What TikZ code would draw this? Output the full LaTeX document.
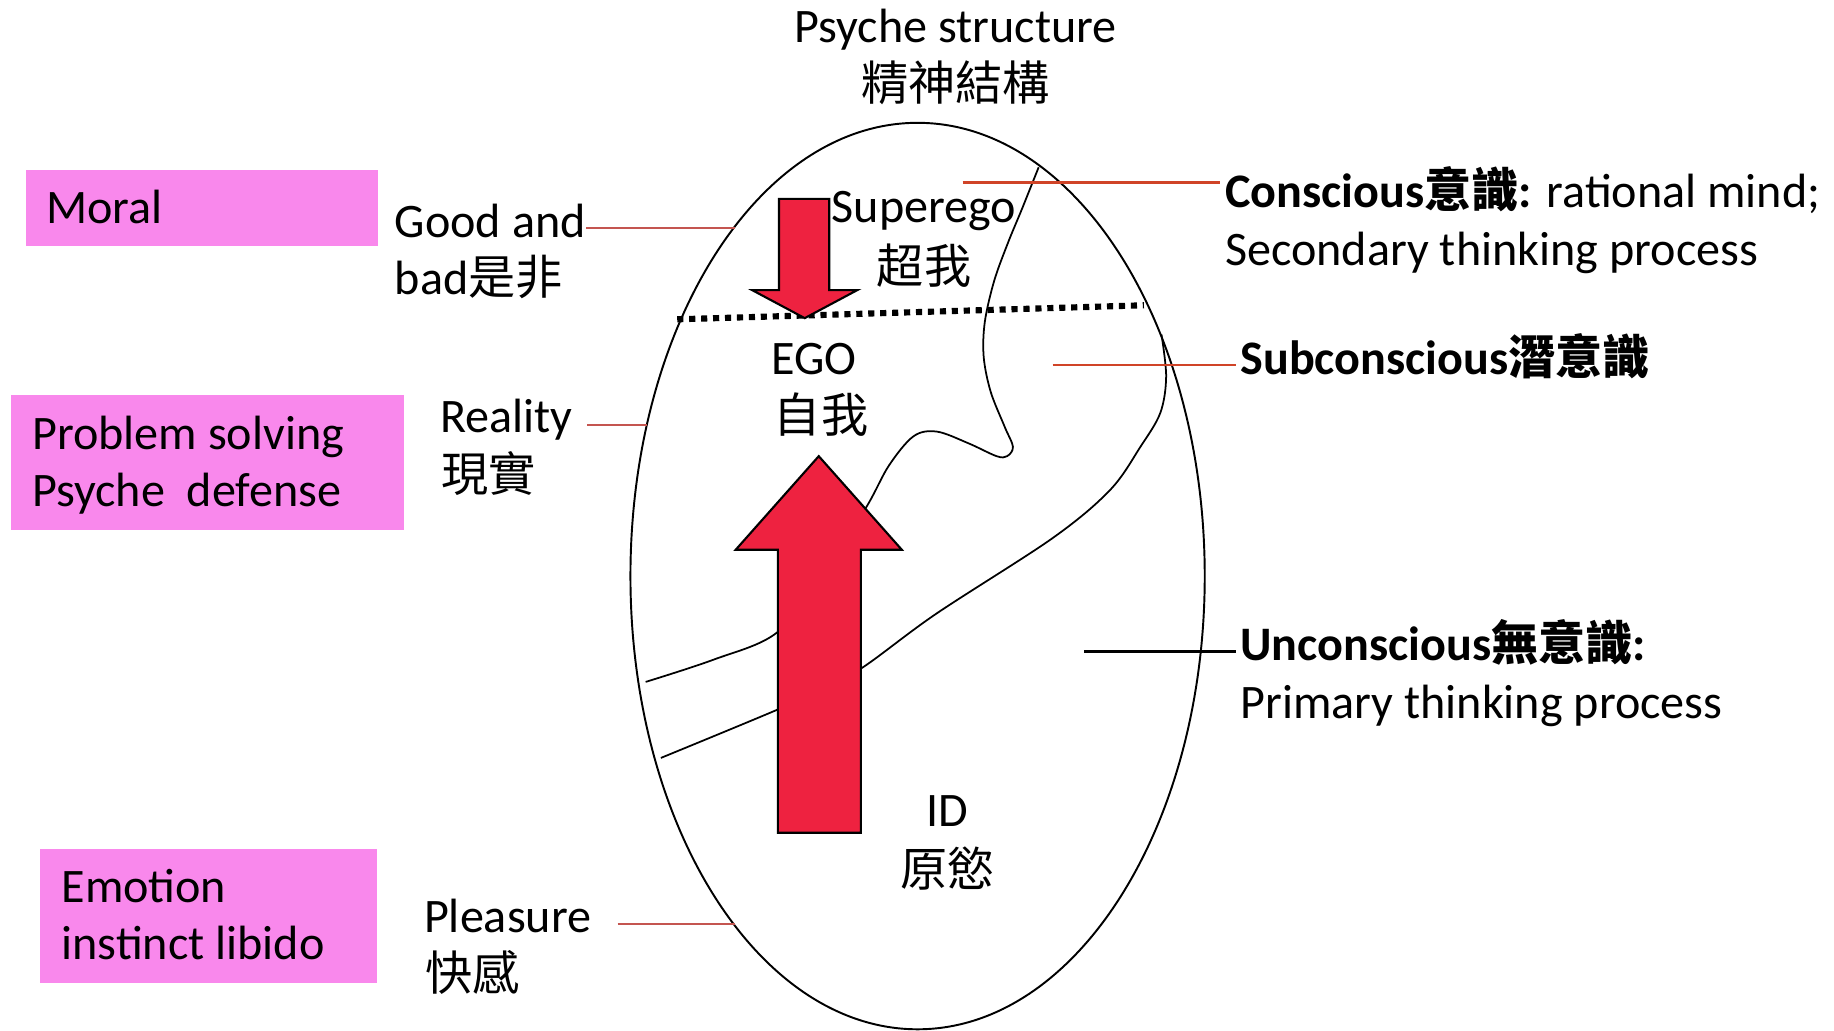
\documentclass[tikz,border=0pt]{standalone}
\usepackage{fontspec}
\setmainfont{Carlito}
\newfontfamily\cjk[Scale=0.98]{Noto Sans CJK TC}
\definecolor{boxpink}{RGB}{249,136,236}
\definecolor{arrred}{RGB}{238,34,64}
\definecolor{leadred}{RGB}{208,68,40}
\definecolor{softred}{RGB}{196,85,80}
\begin{document}
\begin{tikzpicture}[x=0.011697cm, y=-0.011697cm,
  lbl/.style={font=\fontsize{13.7}{16}\selectfont, inner sep=0pt},
  rlbl/.style={font=\fontsize{13.7}{16}\selectfont, inner sep=0pt},
  pinkbox/.style={fill=boxpink},
  egg/.style={draw=black, line width=0.55pt},
  layer/.style={draw=black, line width=0.5pt},
  bigarrow/.style={fill=arrred, draw=black, line width=0.6pt, line join=miter},
  leader/.style={draw=leadred, line width=0.6pt},
  softleader/.style={draw=softred, line width=0.6pt},
  blackleader/.style={draw=black, line width=0.6pt},
  dotline/.style={draw=black, line width=1.75pt, dash pattern=on 1.75pt off 1.65pt}
]
\useasboundingbox (0,0) rectangle (1568,881);

% pink boxes
\fill[pinkbox] (22,145) rectangle (323,210);
\fill[pinkbox] (9,338) rectangle (345,453);
\fill[pinkbox] (34,726) rectangle (322,840);

% egg
\draw[egg] (784.5,492.5) ellipse [x radius=245.5, y radius=387.5];

% layer curves
\draw[layer] plot[smooth, tension=0.55] coordinates {(888,143) (874,178) (862,207) (850,240) (842,275) (841,305) (847,335) (859,365) (866,382) (861,390) (852,390) (828,379) (801,369) (781,373) (760,398) (741,433) (705,490) (664,541) (610,564) (552,583)};
\draw[layer] plot[smooth, tension=0.55] coordinates {(993,286) (997,322) (992,353) (975,382) (949,419) (900,460) (800,525) (737,571) (700,590) (664,607) (565,648)};

% dotted boundary
\draw[dotline] (579,273) -- (978,261);

% arrows
\draw[bigarrow] (666,170) -- (709,170) -- (709,248) -- (733,248) -- (688,272) -- (643,248) -- (666,248) -- cycle;
\draw[bigarrow] (700,390) -- (771,470) -- (736,470) -- (736,712) -- (665,712) -- (665,470) -- (629,470) -- cycle;

% title
\node[lbl, anchor=base] (title) at (817,36) {Psyche structure};
\node[lbl, anchor=base] (titlecjk) at (817,86) {\cjk 精神結構};

% box texts
\node[lbl, anchor=base west] (moral) at (39,191) {Moral};
\node[lbl, anchor=base west] (prob1) at (27,384) {Problem solving};
\node[lbl, anchor=base west] (prob2) at (27,433) {Psyche~~defense};
\node[lbl, anchor=base west] (emo1) at (52,772) {Emotion};
\node[lbl, anchor=base west] (emo2) at (52,820) {instinct libido};

% left labels
\node[lbl, anchor=base west] (good1) at (337,203) {Good and};
\node[lbl, anchor=base west] (good2) at (337,252) {bad{\cjk 是非}};
\node[lbl, anchor=base west] (real1) at (376,370) {Reality};
\node[lbl, anchor=base west] (real2) at (377,420) {\cjk 現實};
\node[lbl, anchor=base west] (pleas1) at (362,797) {Pleasure};
\node[lbl, anchor=base west] (pleas2) at (363,847) {\cjk 快感};

% inner labels
\node[lbl, anchor=base] (sup1) at (790,190) {Superego};
\node[lbl, anchor=base] (sup2) at (790,242) {\cjk 超我};
\node[lbl, anchor=base] (ego1) at (696,320) {EGO};
\node[lbl, anchor=base] (ego2) at (702,370) {\cjk 自我};
\node[lbl, anchor=base] (id1) at (810,707) {ID};
\node[lbl, anchor=base] (id2) at (810,758) {\cjk 原慾};

% right labels
\node[rlbl, anchor=base west] (con1) at (1047,177) {\textbf{Conscious{\cjk 意識}:} rational mind;};
\node[rlbl, anchor=base west] (con2) at (1047,227) {Secondary thinking process};
\node[rlbl, anchor=base west] (sub1) at (1060,320) {\textbf{Subconscious{\cjk 潛意識}}};
\node[rlbl, anchor=base west] (unc1) at (1060,565) {\textbf{Unconscious{\cjk 無意識}:}};
\node[rlbl, anchor=base west] (unc2) at (1060,614) {Primary thinking process};

% leader end points
\coordinate (gp) at (628,195);
\coordinate (rp) at (553,363);
\coordinate (pp) at (628,790);
\coordinate (cp) at (823,156);
\coordinate (sp) at (900,312);
\coordinate (up) at (927,557);

\draw[softleader] (gp -| good1.east) -- (gp);
\draw[softleader] (real1.east |- rp) ++(12,0) -- (rp);
\draw[softleader] (pleas1.east |- pp) ++(22,0) -- (pp);
\draw[leader, shorten >=1.2pt] (cp) -- (cp -| con1.west);
\draw[leader, shorten >=1.2pt] (sp) -- (sp -| sub1.west);
\draw[blackleader, shorten >=1.2pt] (up) -- (up -| unc1.west);
\end{tikzpicture}
\end{document}
